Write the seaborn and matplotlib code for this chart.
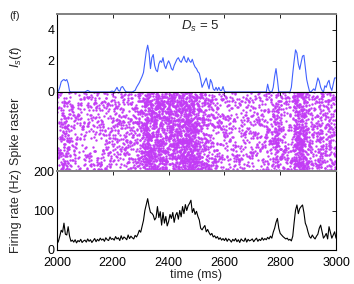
import numpy as np
import pandas as pd
import matplotlib
matplotlib.use("Agg")
import matplotlib.pyplot as plt
import seaborn as sns

sns.set_style("white")
plt.rcParams['font.family'] = ['Liberation Sans', 'DejaVu Sans']
plt.rcParams['mathtext.fontset'] = 'custom'
plt.rcParams['mathtext.it'] = 'Liberation Sans:italic'
plt.rcParams['mathtext.rm'] = 'Liberation Sans'

# ---- data ----
t_start, t_end, dt_ms = 2000, 3000, 5
n_neurons = 200
shown_fraction = 0.42   # share of the population spikes drawn in the raster

I_s = [
    0.05, 0.05, 0.3, 0.65, 0.75, 0.8, 0.72, 0.8, 0.55, 0.05,
    0, 0, 0, 0, 0, 0, 0, 0, 0, 0,
    0, 0.05, 0.1, 0.05, 0, 0, 0, 0, 0, 0,
    0, 0, 0, 0, 0, 0, 0, 0, 0, 0.05,
    0.05, 0, 0.15, 0.3, 0.1, 0.05, 0.3, 0.35, 0.2, 0.05,
    0, 0, 0, 0, 0, 0.05, 0.1, 0.3, 0.45, 0.6,
    0.8, 1.0, 1.25, 1.9, 2.6, 3.0, 2.5, 1.5, 2.2, 2.4,
    1.7, 1.4, 1.3, 1.8, 2.0, 1.9, 2.2, 1.7, 1.5, 1.8,
    2.0, 1.8, 1.5, 1.4, 1.7, 1.9, 2.1, 2.2, 2.0, 1.9,
    2.1, 2.3, 2.0, 1.9, 2.2, 2.0, 1.9, 2.1, 1.8, 1.6,
    1.5, 1.3, 1.2, 0.8, 0.3, 0.5, 0.7, 0.9, 0.5, 0.2,
    0.8, 0.6, 0.2, 0.1, 0.3, 0.1, 0.3, 0.1, 0.1, 0.35,
    0.05, 0, 0, 0, 0, 0, 0, 0, 0, 0,
    0, 0, 0, 0, 0, 0, 0, 0, 0, 0,
    0, 0, 0, 0, 0, 0, 0, 0, 0, 0,
    0, 0.5, 0.1, 0, 0, 0.3, 1.0, 1.5, 0.8, 0,
    0, 0, 0, 0, 0, 0, 0, 0, 0.3, 1.2,
    2.0, 2.7, 2.5, 1.8, 1.45, 1.9, 2.3, 2.35, 1.6, 0.8,
    0.4, 0.05, 0, 0.1, 0.2, 0.1, 0.5, 0.9, 0.7, 0.3,
    0.1, 0, 0.4, 0.3, 0.6, 0.75, 0.3, 0.1, 0.5, 0.9,
    0.9,
]

rate_hz = [
    15, 22, 35, 50, 45, 68, 40, 38, 59, 35,
    22, 25, 20, 26, 18, 24, 21, 27, 19, 23,
    25, 20, 28, 22, 26, 19, 24, 29, 21, 27,
    23, 30, 25, 28, 22, 31, 26, 24, 33, 27,
    29, 25, 34, 28, 31, 24, 36, 27, 33, 30,
    26, 38, 29, 35, 31, 28, 37, 33, 40, 50,
    45, 60, 75, 100, 115, 130, 110, 95, 93, 88,
    76, 82, 110, 82, 97, 63, 95, 68, 85, 61,
    72, 90, 80, 95, 70, 88, 95, 78, 100, 84,
    110, 92, 115, 100, 112, 118, 126, 95, 105, 90,
    98, 85, 76, 55, 51, 57, 62, 46, 52, 44,
    38, 42, 33, 36, 30, 34, 27, 31, 25, 29,
    24, 30, 22, 28, 25, 20, 27, 23, 29, 21,
    26, 19, 28, 24, 22, 30, 20, 27, 23, 25,
    28, 21, 26, 30, 22, 27, 24, 31, 25, 29,
    26, 32, 28, 35, 30, 45, 55, 70, 80, 55,
    42, 38, 34, 31, 28, 30, 25, 27, 23, 35,
    70, 101, 114, 92, 105, 110, 114, 95, 68, 59,
    45, 34, 30, 38, 32, 28, 35, 40, 55, 63,
    46, 30, 35, 42, 28, 59, 45, 30, 38, 46,
    30,
]

x_ticks = [2000, 2200, 2400, 2600, 2800, 3000]
label_D = "$D_s$ = 5"

time_ms = np.arange(t_start, t_end + 1, dt_ms)
df = pd.DataFrame({"time": time_ms, "I_s": I_s, "rate": rate_hz})

# raster: spike count per bin follows the firing rate (count ~ rate*N*dt);
# each spike's place inside the bin comes from a fixed integer hash of its index
def hash01(i, salt):
    x = (i * 0x9E3779B1 + salt * 0x85EBCA6B) & 0xFFFFFFFF
    x ^= x >> 16
    x = (x * 0x7FEB352D) & 0xFFFFFFFF
    x ^= x >> 15
    x = (x * 0x846CA68B) & 0xFFFFFFFF
    x ^= x >> 16
    return x / 4294967296.0

sp_t, sp_n = [], []
k, carry = 0, 0.0
for t0, r in zip(time_ms, rate_hz):
    carry += r * n_neurons * dt_ms / 1000.0 * shown_fraction
    n = int(carry)
    carry -= n
    for _ in range(n):
        k += 1
        sp_t.append(t0 - dt_ms / 2 + dt_ms * hash01(k, 1))
        sp_n.append(n_neurons * hash01(k, 2))
spikes = pd.DataFrame({"time": sp_t, "neuron": sp_n})

# ---- figure ----
fig = plt.figure(figsize=(3.54, 2.84), dpi=100)
L, R = 57 / 354, 336 / 354
W = R - L
def yb(p):
    return 1 - p / 284
ax1 = fig.add_axes([L, yb(92), W, yb(14) - yb(92)])
ax2 = fig.add_axes([L, yb(171), W, yb(92) - yb(171)])
ax3 = fig.add_axes([L, yb(250), W, yb(171) - yb(250)])

blue = "#4262ff"
mag = "#c23cf5"

sns.lineplot(data=df, x="time", y="I_s", ax=ax1, color=blue, lw=0.8)
sns.scatterplot(data=spikes, x="time", y="neuron", ax=ax2, color=mag,
                s=3.0, linewidth=0, marker="o")
sns.lineplot(data=df, x="time", y="rate", ax=ax3, color="black", lw=0.8)

for ax in (ax1, ax2, ax3):
    ax.set_xlim(t_start, t_end)
    ax.set_xticks(x_ticks)
    ax.tick_params(direction="in", length=3, width=0.6, top=True, right=True,
                   labelsize=9, pad=2, colors="black")
    for s in ax.spines.values():
        s.set_color("black")
        s.set_linewidth(0.8)
    ax.set_xlabel("")
    ax.set_ylabel("")

ax1.set_ylim(0, 5)
ax1.set_yticks([0, 2, 4])
ax1.tick_params(labelbottom=False)
ax1.spines["top"].set_color("0.5")
ax1.spines["top"].set_linewidth(1.4)
ax1.text(2515, 4.2, label_D, fontsize=9.5, ha="center", va="center")

ax2.set_ylim(n_neurons, 0)
ax2.set_yticks([])
ax2.tick_params(labelbottom=False, left=False, right=False)
ax2.spines["bottom"].set_color("0.5")
ax2.spines["bottom"].set_linewidth(1.4)

ax3.set_ylim(0, 200)
ax3.set_yticks([0, 100, 200])
ax3.tick_params(axis="x", pad=5)
ax3.spines["top"].set_color("0.5")
ax3.spines["top"].set_linewidth(1.4)
ax3.set_xlabel("time (ms)", fontsize=9, labelpad=0)

xl = 16 / 354
fig.text(xl, yb(57), "$I_s(t)$", rotation=90, fontsize=9.5, ha="center", va="center")
fig.text(xl, yb(131), "Spike raster", rotation=90, fontsize=9, ha="center", va="center")
fig.text(xl, yb(211), "Firing rate (Hz)", rotation=90, fontsize=9, ha="center", va="center")
fig.text(15 / 354, yb(16), "(f)", fontsize=8, ha="center", va="center")

fig.savefig("out.png", dpi=100)
